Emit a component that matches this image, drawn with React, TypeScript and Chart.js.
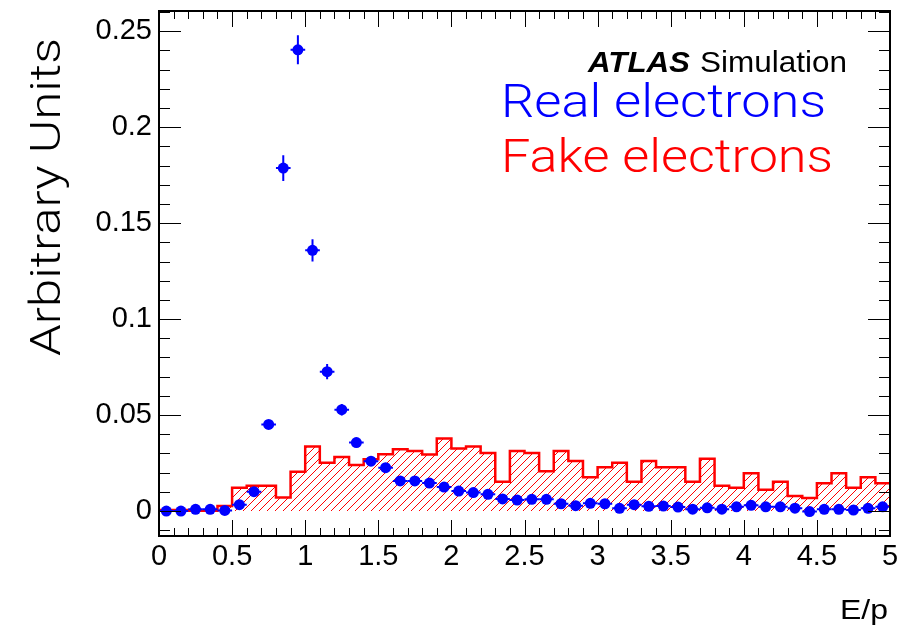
import React, { useEffect, useRef } from "react";
import { Chart, registerables } from "chart.js";

Chart.register(...registerables);

// Bin edges of E/p (0.1 wide)
const binEdges = [
  0.0, 0.1, 0.2, 0.3, 0.4, 0.5, 0.6, 0.7, 0.8, 0.9,
  1.0, 1.1, 1.2, 1.3, 1.4, 1.5, 1.6, 1.7, 1.8, 1.9,
  2.0, 2.1, 2.2, 2.3, 2.4, 2.5, 2.6, 2.7, 2.8, 2.9,
  3.0, 3.1, 3.2, 3.3, 3.4, 3.5, 3.6, 3.7, 3.8, 3.9,
  4.0, 4.1, 4.2, 4.3, 4.4, 4.5, 4.6, 4.7, 4.8, 4.9, 5.0,
];

// Real electrons (blue points)
const realValues = [
  0.0, 0.0, 0.0009, 0.0009, 0.0003, 0.0033, 0.0101, 0.0451, 0.1787, 0.2403,
  0.1358, 0.0726, 0.0528, 0.0357, 0.026, 0.0226, 0.0157, 0.0157, 0.0146, 0.0125,
  0.0104, 0.0096, 0.0087, 0.0063, 0.0057, 0.0061, 0.0061, 0.0038, 0.0028, 0.004,
  0.0038, 0.0014, 0.0033, 0.0025, 0.0026, 0.0021, 0.001, 0.0017, 0.001, 0.0022,
  0.003, 0.0022, 0.0022, 0.0015, -0.0003, 0.0009, 0.0009, 0.0005, 0.0014, 0.0022,
];

const realErrors = [
  0.0004, 0.0004, 0.0005, 0.0005, 0.0005, 0.0008, 0.0012, 0.002, 0.0067, 0.0076,
  0.0058, 0.004, 0.003, 0.0025, 0.0018, 0.0016, 0.0013, 0.0013, 0.0012, 0.0011,
  0.001, 0.001, 0.001, 0.0008, 0.0008, 0.0008, 0.0008, 0.0007, 0.0006, 0.0007,
  0.0007, 0.0005, 0.0006, 0.0005, 0.0005, 0.0005, 0.0004, 0.0005, 0.0004, 0.0005,
  0.0006, 0.0005, 0.0005, 0.0004, 0.0003, 0.0004, 0.0004, 0.0003, 0.0004, 0.0005,
];

// Fake electrons (red hatched histogram)
const fakeValues = [
  0.0005, 0.0005, 0.0002, 0.0002, 0.0026, 0.0122, 0.0132, 0.0132, 0.007, 0.0205,
  0.0336, 0.0252, 0.0282, 0.024, 0.027, 0.0296, 0.0322, 0.0313, 0.0294, 0.0378,
  0.0326, 0.0336, 0.0303, 0.0153, 0.0313, 0.0303, 0.0207, 0.0313, 0.0261, 0.0176,
  0.0228, 0.0251, 0.0153, 0.0261, 0.0228, 0.0228, 0.0153, 0.0272, 0.0132, 0.0122,
  0.0197, 0.0111, 0.0153, 0.0078, 0.0068, 0.0145, 0.0197, 0.0122, 0.0176, 0.0145,
];

const xTickLabels = ["0", "0.5", "1", "1.5", "2", "2.5", "3", "3.5", "4", "4.5", "5"];
const yTickLabels = ["0", "0.05", "0.1", "0.15", "0.2", "0.25"];

const X_MIN = 0;
const X_MAX = 5;
const Y_MIN = -0.013;
const Y_MAX = 0.2605;
const X_MINOR = 0.1;
const Y_MINOR = 0.01;

const LABEL_FONT = "'Liberation Sans', Arial, Helvetica, sans-serif";
const GOTHIC_FONT = "Roboto, 'Liberation Sans', sans-serif";

function drawFit(
  ctx: CanvasRenderingContext2D,
  text: string,
  x: number,
  y: number,
  font: string,
  width: number,
  color: string,
  align: "left" | "right" = "left"
) {
  ctx.save();
  ctx.font = font;
  ctx.fillStyle = color;
  ctx.textBaseline = "alphabetic";
  ctx.textAlign = "left";
  const w = ctx.measureText(text).width || 1;
  const sx = width / w;
  const x0 = align === "right" ? x - width : x;
  ctx.translate(x0, y);
  ctx.scale(sx, 1);
  ctx.fillText(text, 0, 0);
  ctx.restore();
}

const decorPlugin = {
  id: "atlasDecor",
  beforeDatasetsDraw(chart: any) {
    const { ctx, chartArea, scales } = chart;
    const x = scales.x;
    const y = scales.y;
    const { left, right, top, bottom } = chartArea;
    ctx.save();
    ctx.beginPath();
    ctx.rect(left, top, right - left, bottom - top);
    ctx.clip();
    ctx.beginPath();
    const y0 = y.getPixelForValue(0);
    ctx.moveTo(x.getPixelForValue(binEdges[0]), y0);
    fakeValues.forEach((v, i) => {
      const yl = y.getPixelForValue(v);
      ctx.lineTo(x.getPixelForValue(binEdges[i]), yl);
      ctx.lineTo(x.getPixelForValue(binEdges[i + 1]), yl);
    });
    ctx.lineTo(x.getPixelForValue(binEdges[binEdges.length - 1]), y0);
    ctx.closePath();
    ctx.clip();
    ctx.strokeStyle = "#ff0000";
    ctx.lineWidth = 1;
    ctx.beginPath();
    const h = bottom - top;
    for (let c = left - h; c < right + 8; c += 8) {
      ctx.moveTo(c, bottom);
      ctx.lineTo(c + h, top);
    }
    ctx.stroke();
    ctx.restore();
  },
  afterDatasetsDraw(chart: any) {
    const { ctx, scales } = chart;
    const x = scales.x;
    const y = scales.y;
    ctx.save();
    ctx.strokeStyle = "#0000ff";
    ctx.lineWidth = 2;
    realValues.forEach((v, i) => {
      const xl = x.getPixelForValue(binEdges[i]);
      const xr = x.getPixelForValue(binEdges[i + 1]);
      const xc = (xl + xr) / 2;
      const yc = y.getPixelForValue(v);
      const e = realErrors[i];
      ctx.beginPath();
      ctx.moveTo(xl, yc);
      ctx.lineTo(xr, yc);
      ctx.moveTo(xc, y.getPixelForValue(v + e));
      ctx.lineTo(xc, y.getPixelForValue(v - e));
      ctx.stroke();
    });
    ctx.restore();
  },
  afterDraw(chart: any) {
    const { ctx, chartArea, scales } = chart;
    const x = scales.x;
    const y = scales.y;
    const { left, right, top, bottom } = chartArea;
    ctx.save();
    ctx.strokeStyle = "#000";
    ctx.lineWidth = 1;
    ctx.beginPath();
    const yMajors = yTickLabels.map((s) => parseFloat(s));
    for (let k = Math.ceil(Y_MIN / Y_MINOR); k * Y_MINOR <= Y_MAX + 1e-9; k++) {
      const v = k * Y_MINOR;
      const major = yMajors.some((m) => Math.abs(m - v) < 1e-9);
      const len = major ? 22 : 11;
      const py = Math.round(y.getPixelForValue(v)) + 0.5;
      ctx.moveTo(left, py);
      ctx.lineTo(left + len, py);
      ctx.moveTo(right, py);
      ctx.lineTo(right - len, py);
    }
    const xMajors = xTickLabels.map((s) => parseFloat(s));
    for (let k = Math.ceil(X_MIN / X_MINOR); k * X_MINOR <= X_MAX + 1e-9; k++) {
      const v = k * X_MINOR;
      const major = xMajors.some((m) => Math.abs(m - v) < 1e-9);
      const len = major ? 16 : 8;
      const px = Math.round(x.getPixelForValue(v)) + 0.5;
      ctx.moveTo(px, bottom);
      ctx.lineTo(px, bottom - len);
      ctx.moveTo(px, top);
      ctx.lineTo(px, top + len);
    }
    ctx.stroke();
    ctx.lineWidth = 2;
    ctx.strokeRect(left, top, right - left, bottom - top);
    ctx.restore();

    drawFit(ctx, "ATLAS", 588, 72, `italic bold 29px ${LABEL_FONT}`, 102, "#000");
    drawFit(ctx, "Simulation", 700, 72, `29px ${LABEL_FONT}`, 147, "#000");
    drawFit(ctx, "Real electrons", 501, 117, `300 47px ${GOTHIC_FONT}`, 325, "#0000ff");
    drawFit(ctx, "Fake electrons", 501, 172, `300 47px ${GOTHIC_FONT}`, 332, "#ff0000");
    drawFit(ctx, "E/p", 888, 619, `27px ${LABEL_FONT}`, 48, "#000", "right");
    ctx.save();
    ctx.translate(60, 356);
    ctx.rotate(-Math.PI / 2);
    drawFit(ctx, "Arbitrary Units", 0, 0, `300 43px ${GOTHIC_FONT}`, 318, "#000");
    ctx.restore();
  },
};

export default function App() {
  const canvasRef = useRef<HTMLCanvasElement | null>(null);

  useEffect(() => {
    const canvas = canvasRef.current;
    if (!canvas) return;

    const histPoints = binEdges.map((e, i) => ({
      x: e,
      y: i < fakeValues.length ? fakeValues[i] : fakeValues[fakeValues.length - 1],
    }));
    const realPoints = realValues.map((v, i) => ({
      x: (binEdges[i] + binEdges[i + 1]) / 2,
      y: v,
    }));

    const chart = new Chart(canvas, {
      type: "scatter",
      data: {
        datasets: [
          {
            type: "scatter",
            label: "Real electrons",
            data: realPoints,
            pointRadius: 5.5,
            pointHoverRadius: 5.5,
            backgroundColor: "#0000ff",
            borderWidth: 0,
            showLine: false,
          } as any,
          {
            type: "line",
            label: "Fake electrons",
            data: histPoints,
            stepped: true,
            borderColor: "#ff0000",
            borderWidth: 2.5,
            backgroundColor: "rgba(0,0,0,0)",
            fill: false,
            pointRadius: 0,
            pointHoverRadius: 0,
            tension: 0,
          } as any,
        ],
      },
      options: {
        animation: false,
        responsive: false,
        maintainAspectRatio: false,
        events: [],
        layout: { padding: { left: 0, right: 9, top: 11, bottom: 0 } },
        plugins: {
          legend: { display: false },
          tooltip: { enabled: false },
        },
        scales: {
          x: {
            type: "linear",
            min: X_MIN,
            max: X_MAX,
            afterBuildTicks: (s: any) => {
              s.ticks = xTickLabels.map((l) => ({ value: parseFloat(l) }));
            },
            afterFit: (s: any) => {
              s.height = 89;
              s.paddingLeft = 0;
              s.paddingRight = 0;
            },
            grid: { display: false, drawTicks: false },
            border: { display: false },
            ticks: {
              callback: (_v: any, i: number) => xTickLabels[i],
              font: { family: LABEL_FONT, size: 29 },
              color: "#000",
              padding: 4,
              maxRotation: 0,
              autoSkip: false,
            },
          },
          y: {
            type: "linear",
            min: Y_MIN,
            max: Y_MAX,
            afterBuildTicks: (s: any) => {
              s.ticks = yTickLabels.map((l) => ({ value: parseFloat(l) }));
            },
            afterFit: (s: any) => {
              s.width = 159;
              s.paddingTop = 0;
              s.paddingBottom = 0;
            },
            grid: { display: false, drawTicks: false },
            border: { display: false },
            ticks: {
              callback: (_v: any, i: number) => yTickLabels[i],
              font: { family: LABEL_FONT, size: 29 },
              color: "#000",
              padding: 7,
              autoSkip: false,
            },
          },
        },
      },
      plugins: [decorPlugin],
    });

    return () => {
      chart.destroy();
    };
  }, []);

  return (
    <div style={{ position: "fixed", left: 0, top: 0, width: 899, height: 625, background: "#fff" }}>
      <canvas ref={canvasRef} width={899} height={625} style={{ display: "block" }} />
    </div>
  );
}
